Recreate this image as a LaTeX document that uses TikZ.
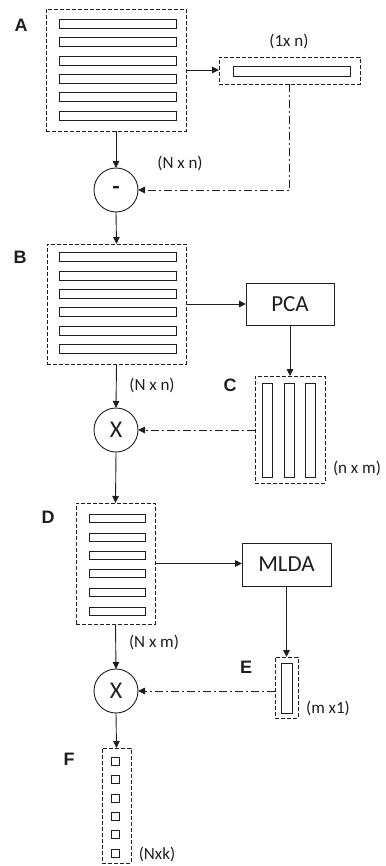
\documentclass[tikz,border=0pt]{standalone}
\usepackage{fontspec}
\setmainfont{Carlito}
\newfontfamily\labfont{Liberation Sans}
\usetikzlibrary{arrows.meta,calc}
\definecolor{ink}{HTML}{1E1E1E}
\tikzset{
  every node/.style={inner sep=0pt,outer sep=0pt},
  dbox/.style={draw=ink,line width=0.9pt,dash pattern=on 4pt off 2pt,rectangle,fill=white},
  bar/.style={draw=ink,line width=0.9pt,rectangle},
  sbox/.style={draw=ink,line width=0.9pt,rectangle,font=\fontsize{23}{25}\selectfont,text=ink},
  op/.style={draw=ink,line width=0.9pt,circle,minimum size=44pt,font=\fontsize{24}{26}\selectfont,text=ink},
  arr/.style={draw=ink,line width=0.9pt,-{Triangle[length=7pt,width=6.5pt]}},
  dd/.style={draw=ink,line width=0.9pt,dash pattern=on 8pt off 3pt on 2pt off 3pt,-{Triangle[length=7pt,width=6.5pt]}},
  lett/.style={font=\labfont\bfseries\fontsize{18}{20}\selectfont,text=ink},
  dim/.style={font=\fontsize{17}{19}\selectfont,text=ink},
}
\begin{document}
\begin{tikzpicture}[x=1pt,y=-1pt]
\useasboundingbox (0,0) rectangle (385,866);
% A
\node[dbox,minimum width=140pt,minimum height=122pt] (A) at (116,70) {};
\foreach \y [count=\i] in {24,42,61,79,97,116}
  \node[bar,minimum width=117pt,minimum height=9pt] (A\i) at (117.5,\y) {};
\node[dbox,minimum width=141pt,minimum height=27pt] (M) at (289.5,70.5) {};
\node[bar,minimum width=117pt,minimum height=10pt] (M1) at (291.5,71) {};
\node[op] (S) at (116,190) {\textbf{-}};
% B
\node[dbox,minimum width=139pt,minimum height=120pt] (B) at (116.5,304) {};
\foreach \y [count=\i] in {257,276,294,312,331,349}
  \node[bar,minimum width=117pt,minimum height=9pt] (B\i) at (117.5,\y) {};
\node[sbox,minimum width=88pt,minimum height=42pt] (PCA) at (290,304) {PCA};
% C
\node[dbox,minimum width=70pt,minimum height=107pt] (C) at (290,429.5) {};
\foreach \x [count=\i] in {267,289,310}
  \node[bar,minimum width=10pt,minimum height=94pt] (C\i) at (\x,430) {};
\node[op] (X1) at (116,430) {X};
% D
\node[dbox,minimum width=79pt,minimum height=121pt] (D) at (115.5,563.5) {};
\foreach \y [count=\i] in {518,537,555,573,592,611}
  \node[bar,minimum width=56pt,minimum height=8pt] (D\i) at (117,\y) {};
\node[sbox,minimum width=89pt,minimum height=43pt] (MLDA) at (286.5,564.5) {MLDA};
% E
\node[dbox,minimum width=23pt,minimum height=61pt] (E) at (286.5,687.5) {};
\node[bar,minimum width=11pt,minimum height=50pt] (E1) at (286.5,688) {};
\node[op] (X2) at (116,691) {X};
% F
\node[dbox,minimum width=29pt,minimum height=115pt] (F) at (116.5,805.5) {};
\foreach \y [count=\i] in {761,779,798,816,834,853}
  \node[bar,minimum width=8pt,minimum height=8pt] (F\i) at (115,\y) {};
% connectors
\draw[arr] (A.east) -- (A.east -| M.west);
\draw[arr] (A.south) -- (S.north);
\draw[dd] (M.south) |- (S.east);
\draw[arr] (S.south) -- (B.north);
\draw[arr] (B.east) -- (B.east -| PCA.west);
\draw[arr] (PCA.south) -- (C.north);
\draw[arr] (B.south) -- (X1.north);
\draw[dd] (C.west |- X1.east) -- (X1.east);
\draw[arr] (X1.south) -- (D.north);
\draw[arr] (D.east) -- (D.east -| MLDA.west);
\draw[arr] (MLDA.south) -- (E.north);
\draw[arr] (D.south) -- (X2.north);
\draw[dd] (E.west |- X2.east) -- (X2.east);
\draw[arr] (X2.south) -- (F.north);
% labels
\node[lett] (lA) at (21,25) {A};
\node[lett] (lB) at (20,257) {B};
\node[lett] (lC) at (230,385) {C};
\node[lett] (lD) at (48,517) {D};
\node[lett] (lE) at (246,667) {E};
\node[lett] (lF) at (69,759) {F};
\node[dim] (d1) at (289,41) {(1x n)};
\node[dim] (d2) at (180,163) {(N x n)};
\node[dim] (d3) at (152,385) {(N x n)};
\node[dim] (d4) at (357,468) {(n x m)};
\node[dim] (d5) at (154,642) {(N x m)};
\node[dim] (d6) at (328,708) {(m x1)};
\node[dim] (d7) at (157,854) {(Nxk)};
\end{tikzpicture}
\end{document}
